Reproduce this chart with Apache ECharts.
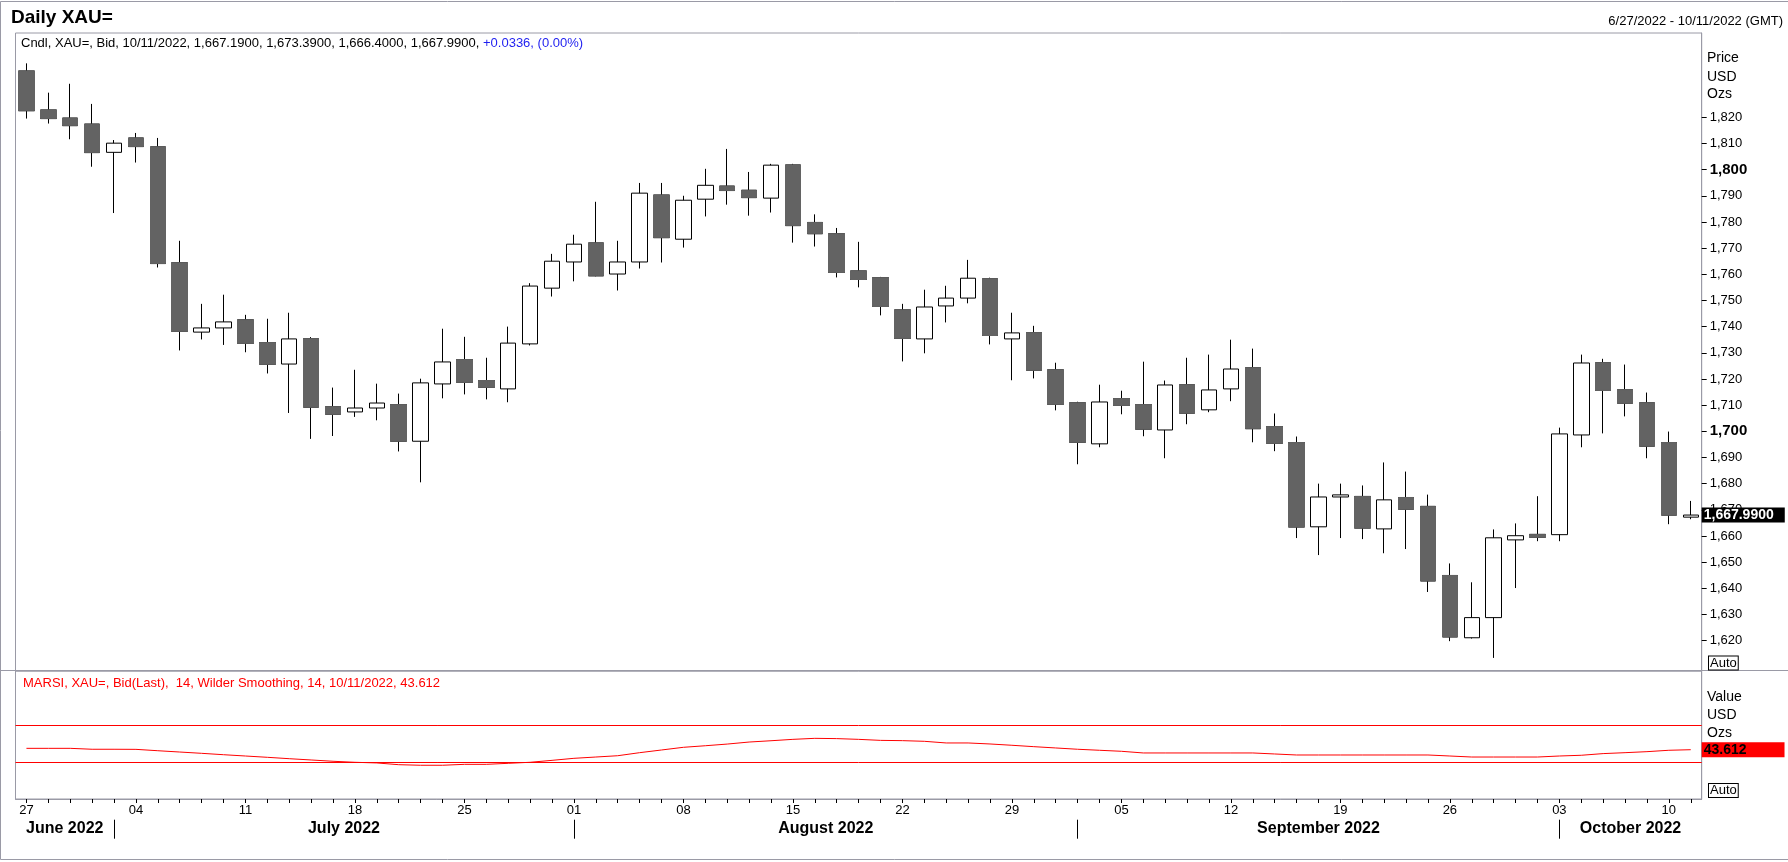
<!DOCTYPE html>
<html>
<head>
<meta charset="utf-8">
<title>Daily XAU=</title>
<script src="https://cdn.jsdelivr.net/npm/echarts@6.0.0/dist/echarts.min.js"></script>
<style>
    html, body { margin: 0; padding: 0; background: #fff; }
    #chart { width: 1788px; height: 862px; }
</style>
</head>
<body>
<div id="chart"></div>
<script>
    // 日线数据
    var dates = [
        '2022-06-27', '2022-06-28', '2022-06-29', '2022-06-30',
        '2022-07-01', '2022-07-04', '2022-07-05', '2022-07-06', '2022-07-07', '2022-07-08',
        '2022-07-11', '2022-07-12', '2022-07-13', '2022-07-14', '2022-07-15',
        '2022-07-18', '2022-07-19', '2022-07-20', '2022-07-21', '2022-07-22',
        '2022-07-25', '2022-07-26', '2022-07-27', '2022-07-28', '2022-07-29',
        '2022-08-01', '2022-08-02', '2022-08-03', '2022-08-04', '2022-08-05',
        '2022-08-08', '2022-08-09', '2022-08-10', '2022-08-11', '2022-08-12',
        '2022-08-15', '2022-08-16', '2022-08-17', '2022-08-18', '2022-08-19',
        '2022-08-22', '2022-08-23', '2022-08-24', '2022-08-25', '2022-08-26',
        '2022-08-29', '2022-08-30', '2022-08-31', '2022-09-01', '2022-09-02',
        '2022-09-05', '2022-09-06', '2022-09-07', '2022-09-08', '2022-09-09',
        '2022-09-12', '2022-09-13', '2022-09-14', '2022-09-15', '2022-09-16',
        '2022-09-19', '2022-09-20', '2022-09-21', '2022-09-22', '2022-09-23',
        '2022-09-26', '2022-09-27', '2022-09-28', '2022-09-29', '2022-09-30',
        '2022-10-03', '2022-10-04', '2022-10-05', '2022-10-06', '2022-10-07',
        '2022-10-10', '2022-10-11'
    ];
    var opens = [
        1837.7, 1822.8, 1819.7, 1817.4,
        1806.6, 1812.1, 1808.7, 1764.4, 1737.9, 1739.5,
        1742.6, 1733.9, 1725.7, 1735.4, 1709.4,
        1707.4, 1708.9, 1710.2, 1696.2, 1718.1,
        1727.4, 1719.4, 1716.2, 1733.4, 1754.7,
        1764.7, 1772.0, 1760.1, 1764.7, 1790.3,
        1773.4, 1788.7, 1793.7, 1792.1, 1789.1,
        1801.8, 1779.8, 1775.5, 1761.3, 1758.7,
        1746.4, 1735.3, 1747.9, 1750.9, 1758.3,
        1735.3, 1737.7, 1723.5, 1710.9, 1695.2,
        1712.5, 1710.2, 1700.5, 1717.8, 1708.2,
        1716.2, 1724.3, 1701.8, 1695.7, 1663.5,
        1674.9, 1675.1, 1662.7, 1674.7, 1671.3,
        1644.9, 1621.1, 1628.8, 1658.5, 1660.6,
        1660.5, 1698.6, 1726.2, 1715.9, 1710.9,
        1695.7, 1667.19
    ];
    var highs = [
        1840.6, 1829.4, 1832.8, 1825.1,
        1811.3, 1814.0, 1812.1, 1772.8, 1748.7, 1752.2,
        1744.5, 1743.0, 1745.3, 1736.0, 1716.7,
        1723.5, 1718.2, 1714.4, 1720.1, 1739.2,
        1736.1, 1728.1, 1740.0, 1756.6, 1767.8,
        1775.1, 1787.7, 1772.8, 1794.9, 1794.9,
        1790.0, 1800.3, 1807.9, 1799.1, 1802.2,
        1802.2, 1782.9, 1777.7, 1772.4, 1759.0,
        1748.7, 1754.1, 1755.6, 1765.5, 1758.7,
        1745.3, 1740.3, 1726.2, 1711.3, 1717.8,
        1715.5, 1726.6, 1719.4, 1728.1, 1729.3,
        1735.0, 1731.6, 1706.8, 1698.0, 1680.0,
        1680.0, 1679.3, 1688.1, 1684.6, 1675.8,
        1649.5, 1642.3, 1662.5, 1664.8, 1675.2,
        1701.4, 1729.3, 1727.7, 1725.5, 1714.8,
        1699.9, 1673.39
    ];
    var lows = [
        1819.5, 1817.6, 1811.6, 1801.1,
        1783.4, 1802.7, 1762.6, 1730.9, 1735.1, 1733.0,
        1730.2, 1722.1, 1707.0, 1697.1, 1698.2,
        1705.5, 1704.2, 1692.3, 1680.5, 1712.6,
        1714.1, 1712.2, 1711.1, 1732.8, 1751.5,
        1757.3, 1759.2, 1753.8, 1762.2, 1764.5,
        1770.2, 1782.1, 1786.6, 1782.4, 1783.6,
        1772.1, 1770.6, 1758.8, 1755.0, 1744.3,
        1726.7, 1729.8, 1741.6, 1748.9, 1733.2,
        1719.5, 1720.2, 1708.0, 1687.4, 1693.9,
        1706.5, 1698.1, 1689.7, 1702.7, 1707.3,
        1711.5, 1695.8, 1692.4, 1659.2, 1652.7,
        1659.2, 1658.8, 1653.4, 1655.0, 1638.6,
        1619.8, 1620.8, 1613.4, 1640.1, 1658.0,
        1658.0, 1693.9, 1699.2, 1705.7, 1689.7,
        1664.5, 1666.40
    ];
    var closes = [
        1822.5, 1819.5, 1816.8, 1806.5,
        1810.1, 1808.8, 1764.1, 1738.2, 1739.5, 1741.8,
        1733.6, 1725.6, 1735.3, 1709.2, 1706.5,
        1708.9, 1710.8, 1696.2, 1718.5, 1726.5,
        1718.7, 1716.8, 1733.7, 1755.5, 1765.0,
        1771.5, 1759.4, 1764.7, 1791.0, 1774.0,
        1788.3, 1794.0, 1792.0, 1789.3, 1801.7,
        1778.6, 1775.5, 1760.7, 1758.0, 1747.7,
        1735.5, 1747.5, 1750.9, 1758.5, 1736.6,
        1737.6, 1723.3, 1710.3, 1695.8, 1711.2,
        1709.9, 1700.8, 1717.7, 1706.9, 1715.8,
        1723.8, 1701.0, 1695.4, 1663.4, 1674.9,
        1675.7, 1663.0, 1673.8, 1670.2, 1642.8,
        1621.4, 1628.8, 1659.3, 1660.1, 1659.5,
        1699.0, 1726.1, 1715.6, 1710.7, 1694.3,
        1667.9564, 1667.99
    ];
    // MARSI (14, Wilder smoothing)
    var marsi = [
        45.1, 45.1, 45.1, 44.1, 44.1, 44.0, 42.5, 41.1, 39.7, 38.2,
        36.8, 35.4, 33.9, 32.5, 31.1, 30.0, 29.3, 27.4, 26.8, 26.8,
        27.8, 27.8, 28.9, 30.0, 32.1, 34.3, 35.7, 37.1, 40.4, 43.3,
        46.2, 47.9, 49.7, 51.9, 53.3, 54.8, 55.9, 55.6, 54.8, 53.7,
        53.4, 52.7, 50.9, 50.9, 49.8, 48.4, 46.9, 45.5, 44.1, 43.0,
        41.9, 40.1, 40.1, 40.1, 40.1, 40.1, 40.1, 39.0, 37.9, 37.9,
        37.9, 37.9, 37.9, 37.9, 37.9, 36.8, 35.7, 35.7, 35.7, 35.7,
        36.8, 37.6, 39.4, 40.4, 41.5, 43.0, 43.612
    ];
    var rsiLevels = [30, 70];
    var priceTicks = [1620, 1630, 1640, 1650, 1660, 1670, 1680, 1690, 1700, 1710, 1720,
        1730, 1740, 1750, 1760, 1770, 1780, 1790, 1800, 1810, 1820];
    var monthNames = ['June 2022', 'July 2022', 'August 2022', 'September 2022', 'October 2022'];

    var FONT = '"Liberation Sans", Arial, sans-serif';
    var frameColor = '#9a9aa6';
    var last = dates.length - 1;

    function fmt(v, dec) {
        var parts = v.toFixed(dec).split('.');
        parts[0] = parts[0].replace(/\B(?=(\d{3})+(?!\d))/g, ',');
        return parts.join('.');
    }
    function usDate(d) {
        var p = d.split('-');
        return parseInt(p[1], 10) + '/' + parseInt(p[2], 10) + '/' + p[0];
    }
    function isMonday(d) {
        return new Date(d + 'T00:00:00Z').getUTCDay() === 1;
    }

    // 月份分隔 + 月份标签位置
    var monthStarts = [];
    for (var i = 1; i < dates.length; i++) {
        if (dates[i].slice(5, 7) !== dates[i - 1].slice(5, 7)) monthStarts.push(i);
    }
    var edges = [-0.5].concat(monthStarts, [dates.length - 0.5]);
    var monthLabelPos = [];
    for (var j = 0; j < edges.length - 1; j++) {
        monthLabelPos.push((edges[j] + edges[j + 1]) / 2);
    }

    var candleData = dates.map(function (d, i) {
        return [opens[i], closes[i], lows[i], highs[i]];
    });
    // 阴线实体覆盖 (no black border on filled bodies)
    var downBodies = dates.map(function (d, i) {
        return closes[i] < opens[i] ? [opens[i], closes[i], closes[i], opens[i]] : '-';
    });

    var chg = closes[last] - closes[last - 1];
    var subText = '{k|Cndl, XAU=, Bid, ' + usDate(dates[last]) + ', ' + fmt(opens[last], 4) + ', ' +
        fmt(highs[last], 4) + ', ' + fmt(lows[last], 4) + ', ' + fmt(closes[last], 4) + ', }' +
        '{c|' + (chg >= 0 ? '+' : '') + chg.toFixed(4) + ', (' + (chg / closes[last - 1] * 100).toFixed(2) + '%)}';

    var hiddenLine = {color: 'rgba(0,0,0,0)', width: 0, opacity: 1};

    var myChart = echarts.init(document.getElementById('chart'));

    var option = {
        animation: false,
        textStyle: {fontFamily: FONT},
        grid: [
            {left: 15.5, right: 86.3, top: 33, height: 638, show: true, borderColor: frameColor, borderWidth: 1},
            {left: 15.5, right: 86.3, top: 671, height: 128, show: true, borderColor: frameColor, borderWidth: 1}
        ],
        xAxis: [
            {
                type: 'category', gridIndex: 0, data: dates, boundaryGap: true,
                axisLine: {show: false, onZero: false}, axisTick: {show: false}, axisLabel: {show: false}, splitLine: {show: false}
            },
            {
                type: 'category', gridIndex: 1, data: dates, boundaryGap: true, position: 'bottom',
                axisLine: {show: true, onZero: false, lineStyle: {color: frameColor}},
                axisTick: {show: true, alignWithLabel: true, interval: 0, length: 4, lineStyle: {color: '#000'}},
                axisLabel: {
                    interval: function (idx, val) { return isMonday(val); },
                    formatter: function (val) { return val.slice(8); },
                    fontSize: 13, color: '#000', margin: 5
                },
                splitLine: {show: false}
            },
            {
                type: 'value', gridIndex: 1, min: -0.5, max: dates.length - 0.5, position: 'bottom', offset: 20.7,
                axisLine: {show: false, onZero: false}, splitLine: {show: false},
                axisTick: {show: true, customValues: monthStarts, length: 19, lineStyle: {color: '#000'}},
                axisLabel: {
                    customValues: monthLabelPos,
                    formatter: function (v) {
                        for (var k = 0; k < monthLabelPos.length; k++) {
                            if (Math.abs(monthLabelPos[k] - v) < 0.01) return monthNames[k];
                        }
                        return '';
                    },
                    fontSize: 16, fontWeight: 'bold', color: '#000', margin: 1
                }
            }
        ],
        yAxis: [
            {
                type: 'value', gridIndex: 0, position: 'right', min: 1608.4, max: 1852.2,
                axisLine: {show: true, onZero: false, lineStyle: {color: frameColor}},
                axisTick: {show: true, customValues: priceTicks, length: 5, lineStyle: {color: '#000'}},
                axisLabel: {
                    customValues: priceTicks,
                    formatter: function (v) {
                        var s = fmt(v, 0);
                        return v % 100 === 0 ? '{b|' + s + '}' : s;
                    },
                    fontSize: 13, color: '#000', margin: 8,
                    rich: {b: {fontWeight: 'bold', fontSize: 15, color: '#000'}}
                },
                splitLine: {show: false}
            },
            {
                type: 'value', gridIndex: 1, position: 'right', min: -9.68, max: 128.7,
                axisLine: {show: true, onZero: false, lineStyle: {color: frameColor}},
                axisTick: {show: false}, axisLabel: {show: false}, splitLine: {show: false}
            }
        ],
        series: [
            {
                name: 'XAU=',
                type: 'candlestick',
                xAxisIndex: 0, yAxisIndex: 0,
                barWidth: 16,
                clip: false,
                data: candleData,
                itemStyle: {color: '#ffffff', color0: '#636363', borderColor: '#000', borderColor0: '#000', borderWidth: 1},
                markLine: {
                    silent: true,
                    symbol: ['none', 'none'],
                    lineStyle: hiddenLine,
                    data: [{yAxis: closes[last]}],
                    label: {
                        show: true, position: 'end', distance: 0, opacity: 1,
                        formatter: fmt(closes[last], 4),
                        color: '#fff', backgroundColor: '#000', fontWeight: 'bold', fontSize: 14,
                        padding: [1, 11, 0, 2]
                    }
                }
            },
            {
                name: 'bodies',
                type: 'candlestick',
                xAxisIndex: 0, yAxisIndex: 0,
                barWidth: 16,
                z: 3,
                data: downBodies,
                itemStyle: {color: '#636363', color0: '#636363', borderColor: '#636363', borderColor0: '#636363', borderWidth: 1}
            },
            {
                name: 'MARSI',
                type: 'line',
                xAxisIndex: 1, yAxisIndex: 1,
                data: marsi,
                symbol: 'none',
                clip: false,
                lineStyle: {color: '#ff0000', width: 1},
                markLine: {
                    silent: true,
                    symbol: ['none', 'none'],
                    lineStyle: {color: '#ff0000', width: 1, type: 'solid'},
                    label: {show: false},
                    data: [
                        {yAxis: rsiLevels[0]},
                        {yAxis: rsiLevels[1]},
                        {
                            yAxis: marsi[last],
                            lineStyle: hiddenLine,
                            label: {
                                show: true, position: 'end', distance: 0, opacity: 1,
                                formatter: marsi[last].toFixed(3),
                                color: '#000', backgroundColor: '#ff0000', fontWeight: 'bold', fontSize: 14,
                                padding: [1, 38, 0, 2]
                            }
                        }
                    ]
                }
            }
        ],
        graphic: [
            {type: 'rect', silent: true, shape: {x: 0.5, y: 1.5, width: 1800, height: 858}, style: {fill: null, stroke: frameColor, lineWidth: 1}},
            {type: 'line', silent: true, shape: {x1: 0, y1: 670.5, x2: 1788, y2: 670.5}, style: {stroke: frameColor, lineWidth: 1}},
            {type: 'text', x: 11, y: 17.5, style: {text: 'Daily XAU=', font: 'bold 19px ' + FONT, fill: '#000', verticalAlign: 'middle'}},
            {type: 'text', x: 1783, y: 21.7, style: {text: usDate(dates[0]) + ' - ' + usDate(dates[last]) + ' (GMT)', font: '13px ' + FONT, fill: '#000', align: 'right', verticalAlign: 'middle'}},
            {
                type: 'text', x: 21, y: 43.5,
                style: {
                    text: subText, verticalAlign: 'middle',
                    rich: {
                        k: {fontSize: 13, fontFamily: FONT, fill: '#000'},
                        c: {fontSize: 13, fontFamily: FONT, fill: '#1e1ef0'}
                    }
                }
            },
            {type: 'text', x: 1707, y: 58.3, style: {text: 'Price', font: '14px ' + FONT, fill: '#000', verticalAlign: 'middle'}},
            {type: 'text', x: 1707, y: 76.7, style: {text: 'USD', font: '14px ' + FONT, fill: '#000', verticalAlign: 'middle'}},
            {type: 'text', x: 1707, y: 94.3, style: {text: 'Ozs', font: '14px ' + FONT, fill: '#000', verticalAlign: 'middle'}},
            {type: 'text', x: 1709, y: 663, style: {text: 'Auto', font: '13px ' + FONT, fill: '#000', verticalAlign: 'middle', backgroundColor: '#fff', borderColor: '#000', borderWidth: 1, padding: [0, 1, 0, 1]}},
            {type: 'text', x: 23, y: 683, style: {text: 'MARSI, XAU=, Bid(Last),  14, Wilder Smoothing, 14, ' + usDate(dates[last]) + ', ' + marsi[last].toFixed(3), font: '13px ' + FONT, fill: '#ff0000', verticalAlign: 'middle'}},
            {type: 'text', x: 1707, y: 696.7, style: {text: 'Value', font: '14px ' + FONT, fill: '#000', verticalAlign: 'middle'}},
            {type: 'text', x: 1707, y: 715, style: {text: 'USD', font: '14px ' + FONT, fill: '#000', verticalAlign: 'middle'}},
            {type: 'text', x: 1707, y: 732.7, style: {text: 'Ozs', font: '14px ' + FONT, fill: '#000', verticalAlign: 'middle'}},
            {type: 'text', x: 1709, y: 790.5, style: {text: 'Auto', font: '13px ' + FONT, fill: '#000', verticalAlign: 'middle', backgroundColor: '#fff', borderColor: '#000', borderWidth: 1, padding: [0, 1, 0, 1]}}
        ]
    };

    myChart.setOption(option);
</script>
</body>
</html>
